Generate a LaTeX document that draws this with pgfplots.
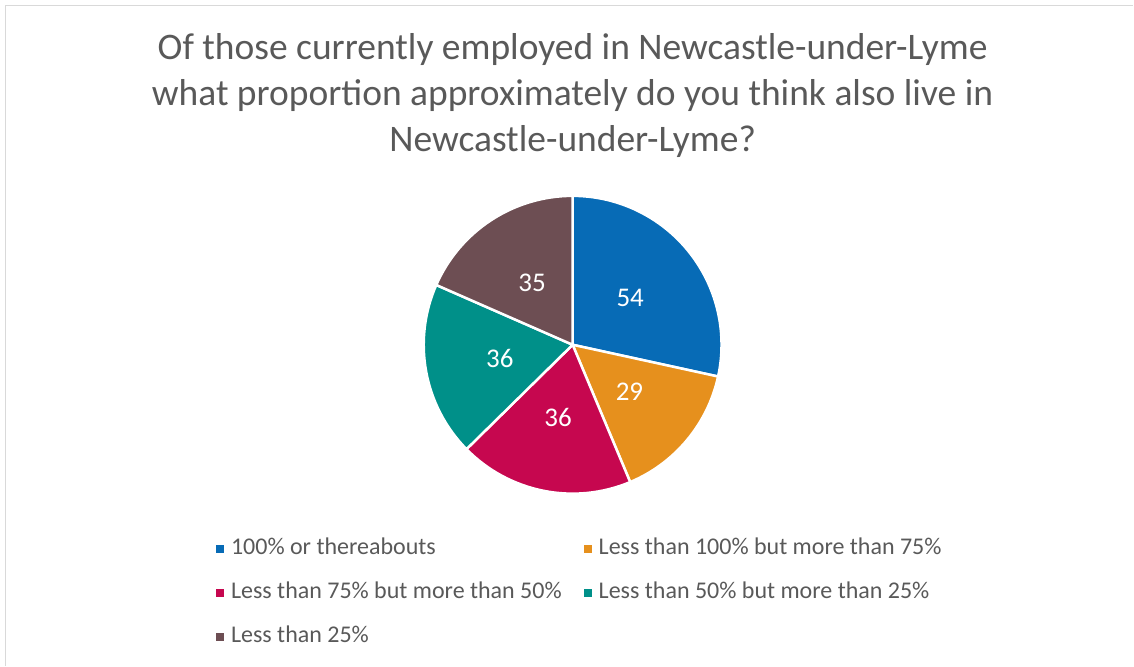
\documentclass[border=0pt]{standalone}
\usepackage{fontspec}
\setmainfont{Carlito}
\usepackage{pgfplots}
\usepackage{pgfplotstable}
\pgfplotsset{compat=1.18}

\definecolor{pieA}{HTML}{076BB6}
\definecolor{pieB}{HTML}{E6901D}
\definecolor{pieC}{HTML}{C6074F}
\definecolor{pieD}{HTML}{009089}
\definecolor{pieE}{HTML}{6D4E53}
\definecolor{txtgray}{HTML}{595959}
\definecolor{framegray}{HTML}{D9D9D9}

% survey responses, one row per answer, clockwise from 12 o'clock
\pgfplotstableread{
share colour
54 pieA
29 pieB
36 pieC
36 pieD
35 pieE
}\sharetable

\tikzset{slice label/.style={text=white, inner sep=0pt, font=\fontsize{27bp}{32bp}\selectfont}}

\begin{document}
\begin{tikzpicture}
\begin{axis}[
  x=1bp, y=1bp, scale only axis,
  xmin=0, xmax=1134, ymin=0, ymax=666,
  hide axis, clip=false,
  title={Of those currently employed in Newcastle-under-Lyme\\what proportion approximately do you think also live in\\Newcastle-under-Lyme?},
  title style={at={(axis cs:573,627)}, anchor=north, align=center, inner sep=0pt,
    text=txtgray, font=\fontsize{37.5bp}{46bp}\selectfont},
  legend columns=2,
  legend cell align=left,
  legend image code/.code={\fill (0bp,-4bp) rectangle (8bp,4bp);},
  legend style={at={(axis cs:213,130)}, anchor=north west, draw=none, fill=none,
    text=txtgray, font=\fontsize{24bp}{28bp}\selectfont,
    nodes={inner sep=0pt, text height=17bp, text depth=5bp},
    row sep=22bp,
    /tikz/every odd column/.append style={column sep=7bp},
    /tikz/every even column/.append style={column sep=22bp}},
]
\path (axis cs:0,0) rectangle (axis cs:1134,666);
\draw[framegray, line width=1.5bp] (axis cs:5.5,0) -- (axis cs:5.5,660.5) -- (axis cs:1134,660.5);

% sum of all answers
\pgfplotstablegetrowsof{\sharetable}
\pgfmathtruncatemacro\lastrow{\pgfplotsretval-1}
\def\total{0}
\pgfplotsforeachungrouped \i in {0,...,\lastrow}{%
  \pgfplotstablegetelem{\i}{share}\of\sharetable
  \pgfmathsetmacro\total{\total+\pgfplotsretval}%
}

% slices with their value labels
\def\startang{90}
\pgfplotsforeachungrouped \i in {0,...,\lastrow}{%
  \pgfplotstablegetelem{\i}{share}\of\sharetable
  \let\val\pgfplotsretval
  \pgfplotstablegetelem{\i}{colour}\of\sharetable
  \let\col\pgfplotsretval
  \pgfmathsetmacro\endang{\startang-\val/\total*360}%
  \pgfmathsetmacro\midang{(\startang+\endang)/2}%
  \pgfmathsetmacro\sx{573+149*cos(\startang)}%
  \pgfmathsetmacro\sy{321+149*sin(\startang)}%
  \pgfmathsetmacro\lx{573+74*cos(\midang)}%
  \pgfmathsetmacro\ly{321+74*sin(\midang)}%
  \edef\doslice{%
    \noexpand\filldraw[fill=\col, draw=white, line width=2.5bp, line join=round]
      (axis cs:573,321) -- (axis cs:\sx,\sy)
      arc[start angle=\startang, end angle=\endang, radius=149bp] -- cycle;
    \noexpand\node[slice label] at (axis cs:\lx,\ly) {\val};
  }%
  \doslice
  \let\startang\endang
}

\addlegendimage{fill=pieA, draw=none}
\addlegendentry{100\% or thereabouts}
\addlegendimage{fill=pieB, draw=none}
\addlegendentry{Less than 100\% but more than 75\%}
\addlegendimage{fill=pieC, draw=none}
\addlegendentry{Less than 75\% but more than 50\%}
\addlegendimage{fill=pieD, draw=none}
\addlegendentry{Less than 50\% but more than 25\%}
\addlegendimage{fill=pieE, draw=none}
\addlegendentry{Less than 25\%}
\end{axis}
\end{tikzpicture}
\end{document}
